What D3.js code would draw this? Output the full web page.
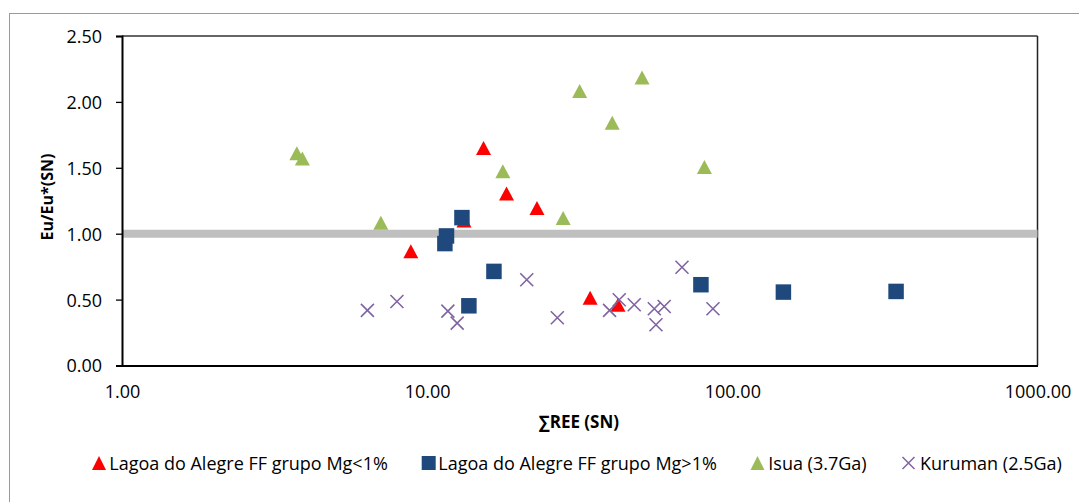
<!DOCTYPE html>
<html>
<head>
<meta charset="utf-8">
<script src="https://cdn.jsdelivr.net/npm/d3@7/dist/d3.min.js"></script>
<style>
  html, body { margin: 0; padding: 0; background: #fff; }
  svg { display: block; font-family: "Open Sans", sans-serif; }
</style>
</head>
<body>
<svg id="chart" width="1079" height="502"></svg>
<script>
// ---- Data ----
const seriesNames = ["Lagoa do Alegre FF grupo Mg<1%", "Lagoa do Alegre FF grupo Mg>1%", "Isua (3.7Ga)", "Kuruman (2.5Ga)"];

const mgLowX = [15.3, 18.2, 22.9, 8.84, 34.2, 42.2, 13.2];
const mgLowY = [1.65, 1.305, 1.195, 0.866, 0.514, 0.46, 1.10];

const mgHighX = [13.0, 11.57, 11.43, 16.55, 13.7, 78.9, 147, 344];
const mgHighY = [1.122, 0.983, 0.925, 0.714, 0.453, 0.613, 0.557, 0.562];

const isuaX = [3.74, 3.90, 7.05, 17.7, 27.9, 31.6, 40.4, 50.6, 81];
const isuaY = [1.61, 1.57, 1.084, 1.474, 1.12, 2.082, 1.841, 2.186, 1.507];

const kurumanX = [6.37, 7.96, 11.69, 12.54, 21.2, 26.7, 39.6, 42.6, 47.7, 55.5, 59.8, 56.2, 68.4, 86.4];
const kurumanY = [0.418, 0.486, 0.413, 0.322, 0.651, 0.362, 0.418, 0.499, 0.461, 0.431, 0.448, 0.309, 0.745, 0.431];

const xTicks = [1, 10, 100, 1000];
const yTicks = [0, 0.5, 1.0, 1.5, 2.0, 2.5];
const refLineY = 1.0;

const xTitle = "∑REE (SN)";
const yTitle = "Eu/Eu*(SN)";

// ---- Layout ----
const svg = d3.select("#chart");
const L = 122, R = 1037.5, T = 36, B = 365.5;

const x = d3.scaleLog().domain([1, 1000]).range([L, R]);
const y = d3.scaleLinear().domain([0, 2.5]).range([B, T]);

// outer border
svg.append("rect").attr("x", 9.5).attr("y", 13.5).attr("width", 1100).attr("height", 600)
  .attr("fill", "none").attr("stroke", "#9a9a9a").attr("stroke-width", 1);

// plot frame top/right
svg.append("line").attr("x1", L).attr("x2", R).attr("y1", T).attr("y2", T).attr("stroke", "#333").attr("stroke-width", 1.3);
svg.append("line").attr("x1", R).attr("x2", R).attr("y1", T).attr("y2", B).attr("stroke", "#222").attr("stroke-width", 1.5);

// reference line
svg.append("line").attr("x1", L).attr("x2", R).attr("y1", y(refLineY)).attr("y2", y(refLineY))
  .attr("stroke", "#bfbfbf").attr("stroke-width", 8);

// y axis
const yAxis = d3.axisLeft(y).tickValues(yTicks).tickFormat(d3.format(".2f")).tickSize(6).tickPadding(14);
const gy = svg.append("g").attr("transform", `translate(${L},0)`).call(yAxis);
gy.select(".domain").attr("stroke", "#000").attr("stroke-width", 2);
gy.selectAll(".tick line").attr("stroke", "#000").attr("stroke-width", 1.3);
gy.selectAll(".tick text").attr("font-size", 18).attr("fill", "#000").attr("font-family", "Open Sans").attr("dy", "0.36em");

// x axis
const xAxis = d3.axisBottom(x).tickValues(xTicks).tickFormat(d3.format(".2f")).tickSize(0).tickPadding(20);
const gx = svg.append("g").attr("transform", `translate(0,${B})`).call(xAxis);
gx.select(".domain").attr("stroke", "#000").attr("stroke-width", 2);
gx.selectAll(".tick text").attr("font-size", 18).attr("fill", "#000").attr("font-family", "Open Sans");

// titles
svg.append("text").attr("x", 579).attr("y", 428).attr("text-anchor", "middle")
  .attr("font-size", 17).attr("font-weight", "bold").text(xTitle);
svg.append("text").attr("transform", "translate(53,197) rotate(-90)").attr("text-anchor", "middle")
  .attr("font-size", 16).attr("font-weight", "bold").text(yTitle);

// markers
function triPath(w, h) { return `M0,${-h/2}L${w/2},${h/2}L${-w/2},${h/2}Z`; }
function sqPath(s) { return `M${-s/2},${-s/2}h${s}v${s}h${-s}Z`; }
function xPath(s) { return `M${-s/2},${-s/2}L${s/2},${s/2}M${s/2},${-s/2}L${-s/2},${s/2}`; }

const series = [
  { xs: mgLowX, ys: mgLowY, path: triPath(15, 14), fill: "#ff0000", stroke: "none" },
  { xs: mgHighX, ys: mgHighY, path: sqPath(15.5), fill: "#1f497d", stroke: "none" },
  { xs: isuaX, ys: isuaY, path: triPath(15, 14), fill: "#9bbb59", stroke: "none" },
  { xs: kurumanX, ys: kurumanY, path: xPath(13), fill: "none", stroke: "#8064a2" }
];

series.forEach(s => {
  const pts = s.xs.map((v, i) => [v, s.ys[i]]);
  svg.append("g").selectAll("path").data(pts).join("path")
    .attr("d", s.path)
    .attr("transform", d => `translate(${x(d[0])},${y(d[1])})`)
    .attr("fill", s.fill).attr("stroke", s.stroke).attr("stroke-width", 1.6);
});

// legend
const legendY = 463;
const legendItems = [
  { sx: 99, tx: 109.3, path: triPath(14, 14), fill: "#ff0000", stroke: "none" },
  { sx: 428.7, tx: 438.3, path: sqPath(14), fill: "#1f497d", stroke: "none" },
  { sx: 757.5, tx: 768.3, path: triPath(14, 14), fill: "#9bbb59", stroke: "none" },
  { sx: 908.5, tx: 920, path: xPath(12), fill: "none", stroke: "#8064a2" }
];
legendItems.forEach((it, i) => {
  svg.append("path").attr("d", it.path).attr("transform", `translate(${it.sx},${legendY})`)
    .attr("fill", it.fill).attr("stroke", it.stroke).attr("stroke-width", 1.5);
  svg.append("text").attr("x", it.tx).attr("y", legendY + 6.5).attr("font-size", 18)
    .attr("fill", "#000").text(seriesNames[i]);
});
</script>
</body>
</html>
